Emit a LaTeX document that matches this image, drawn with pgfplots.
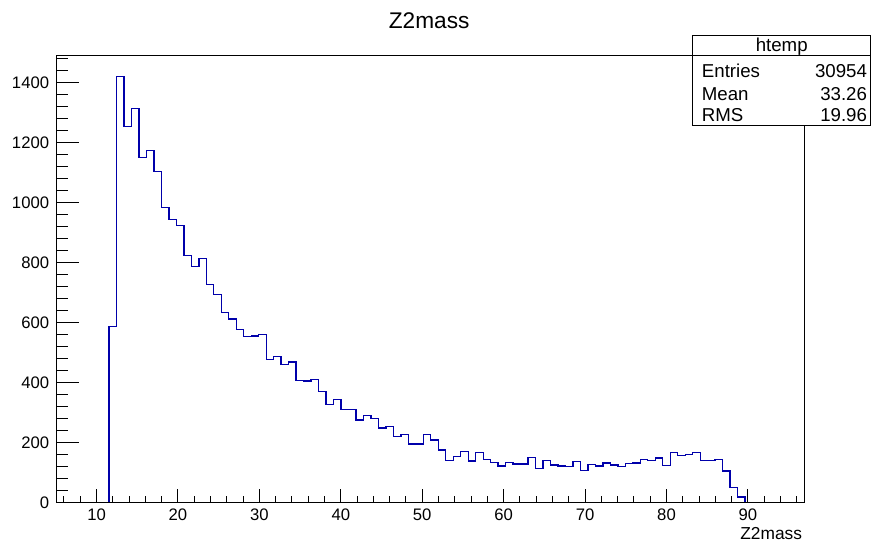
\documentclass[border=0pt]{standalone}
\usepackage{fontspec}
\setmainfont{Liberation Sans}
\usepackage{pgfplots}
\usepackage{pgfplotstable}
\pgfplotsset{compat=1.18}
\definecolor{rootblue}{RGB}{0,0,170}
\pgfplotstableread{
x y
5.100 0
11.533 587
12.452 1421
13.371 1253
14.290 1313
15.209 1150
16.128 1175
17.047 1103
17.966 985
18.885 943
19.804 923
20.723 823
21.642 787
22.561 813
23.480 728
24.399 693
25.318 635
26.237 612
27.156 578
28.075 553
28.994 556
29.913 560
30.832 478
31.751 487
32.670 461
33.589 469
34.508 408
35.427 406
36.346 411
37.265 371
38.184 327
39.103 344
40.022 310
40.941 310
41.860 276
42.779 291
43.698 280
44.617 249
45.536 253
46.455 221
47.374 227
48.293 196
49.212 196
50.131 227
51.050 209
51.969 176
52.888 140
53.807 153
54.726 171
55.645 139
56.564 167
57.483 145
58.402 133
59.321 122
60.240 133
61.159 129
62.078 129
62.997 150
63.916 113
64.835 140
65.754 126
66.673 122
67.592 120
68.511 137
69.430 108
70.349 128
71.268 122
72.187 132
73.106 126
74.025 120
74.944 130
75.863 132
76.782 143
77.701 140
78.620 149
79.539 124
80.458 167
81.377 157
82.296 160
83.215 167
84.134 141
85.053 141
85.972 143
86.891 106
87.810 50
88.729 19
89.648 0
97.000 0
}\histdata
\pgfplotsset{
  rootframe/.style={
    at={(0pt,0pt)}, anchor=south west,
    scale only axis, width=561.2pt, height=335.25pt,
    xmin=5.1, xmax=97.0, ymin=0, ymax=1490,
    axis line style={line width=0.75pt},
    tick align=inside,
    xtick pos=bottom, ytick pos=left,
    tick style={black, line width=0.75pt},
    ticklabel style={font=\fontsize{12.5}{14}\selectfont},
    /pgf/number format/assume math mode=true,
    /pgf/number format/set thousands separator={},
  }
}
\begin{document}
\begin{tikzpicture}
\begin{axis}[
  rootframe,
  xtick={10,20,...,90},
  minor xtick={6,8,...,96},
  ytick=\empty,
  major tick length=10pt,
  minor tick length=5pt,
  xticklabel style={inner sep=0pt, yshift=-4.2pt},
]
\addplot[const plot mark left, rootblue, line width=1pt] table[x=x, y=y] {\histdata};
\end{axis}
\begin{axis}[
  rootframe,
  xtick=\empty,
  ytick={0,200,...,1400},
  minor ytick={40,80,...,1480},
  major tick length=16.5pt,
  minor tick length=8.25pt,
  yticklabel style={inner sep=0pt, xshift=-5.5pt},
]
\end{axis}
\path[use as bounding box] (-42.5pt,-31.0pt) rectangle (611.5pt,377.0pt);
\draw[line width=0.75pt, fill=white] (477.0pt,283.05pt) rectangle (610.7pt,350.0pt);
\draw[line width=0.75pt] (477.0pt,335.1pt) -- (610.7pt,335.1pt);
\node[anchor=base, inner sep=0pt, font=\fontsize{14}{16}\selectfont] at (543.8pt,338.0pt) {htemp};
\node[anchor=base west, inner sep=0pt, font=\fontsize{14}{16}\selectfont] at (483.75pt,319.0pt) {Entries};
\node[anchor=base west, inner sep=0pt, font=\fontsize{14}{16}\selectfont] at (483.75pt,301.3pt) {Mean};
\node[anchor=base west, inner sep=0pt, font=\fontsize{14}{16}\selectfont] at (483.75pt,285.75pt) {RMS};
\node[anchor=base east, inner sep=0pt, font=\fontsize{14}{16}\selectfont] at (607.95pt,319.0pt) {30954};
\node[anchor=base east, inner sep=0pt, font=\fontsize{14}{16}\selectfont] at (607.95pt,301.3pt) {33.26};
\node[anchor=base east, inner sep=0pt, font=\fontsize{14}{16}\selectfont] at (607.95pt,285.75pt) {19.96};
\node[anchor=base, inner sep=0pt, font=\fontsize{17}{20}\selectfont] at (279.4pt,355.8pt) {Z2mass};
\node[anchor=base east, inner sep=0pt, font=\fontsize{13}{15}\selectfont] at (559.2pt,-27.45pt) {Z2mass};
\end{tikzpicture}
\end{document}
